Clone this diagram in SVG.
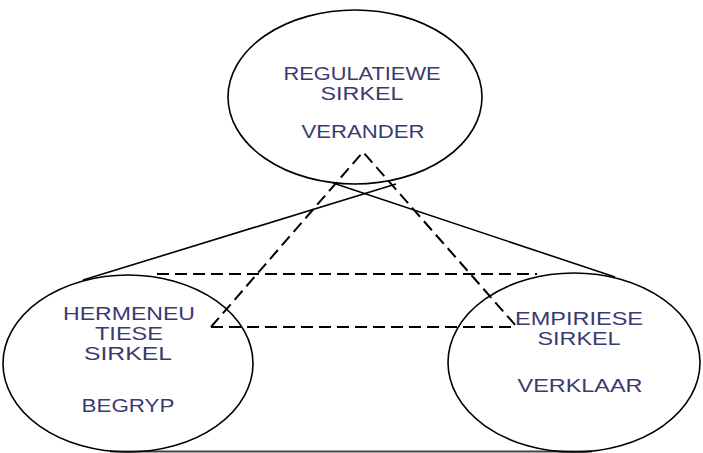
<svg xmlns="http://www.w3.org/2000/svg" width="703" height="453" viewBox="0 0 703 453">
<style>
.node{fill:none;stroke:#000;stroke-width:1.6}
.lbl{font-family:"Liberation Sans",Arial,sans-serif;font-size:18px;fill:#3a3a70;text-anchor:middle}
.solid{stroke:#000;stroke-width:1.6;fill:none}
.dash{stroke:#000;stroke-width:2;fill:none;stroke-dasharray:12 6}
</style>
<rect width="703" height="453" fill="#fff"/>
<g id="connectors">
<line class="solid" x1="83" y1="280" x2="396" y2="184"/>
<line class="solid" x1="333" y1="183" x2="615" y2="277"/>
<line class="dash" x1="157" y1="274" x2="537" y2="274"/>
<polyline class="dash" points="211,327 363,152 517,327"/>
<line class="dash" x1="211" y1="327" x2="517" y2="327"/>
<line x1="110" y1="451.5" x2="592" y2="451.5" stroke="#444" stroke-width="2"/>
</g>
<g id="regulatiewe">
<ellipse class="node" cx="355" cy="97" rx="127" ry="87"/>
<text class="lbl" x="362" y="80" textLength="157" lengthAdjust="spacingAndGlyphs">REGULATIEWE</text>
<text class="lbl" x="362" y="100" textLength="83" lengthAdjust="spacingAndGlyphs">SIRKEL</text>
<text class="lbl" x="363" y="138" textLength="123" lengthAdjust="spacingAndGlyphs">VERANDER</text>
</g>
<g id="hermeneutiese">
<ellipse class="node" cx="128" cy="363.5" rx="125" ry="88.5"/>
<text class="lbl" x="129" y="320" textLength="132" lengthAdjust="spacingAndGlyphs">HERMENEU</text>
<text class="lbl" x="129" y="340" textLength="68" lengthAdjust="spacingAndGlyphs">TIESE</text>
<text class="lbl" x="128" y="360" textLength="88" lengthAdjust="spacingAndGlyphs">SIRKEL</text>
<text class="lbl" x="128" y="412" textLength="93" lengthAdjust="spacingAndGlyphs">BEGRYP</text>
</g>
<g id="empiriese">
<ellipse class="node" cx="574" cy="362.5" rx="126" ry="89.5"/>
<text class="lbl" x="579" y="325" textLength="128" lengthAdjust="spacingAndGlyphs">EMPIRIESE</text>
<text class="lbl" x="579" y="345" textLength="83" lengthAdjust="spacingAndGlyphs">SIRKEL</text>
<text class="lbl" x="580" y="392" textLength="125" lengthAdjust="spacingAndGlyphs">VERKLAAR</text>
</g>
</svg>
